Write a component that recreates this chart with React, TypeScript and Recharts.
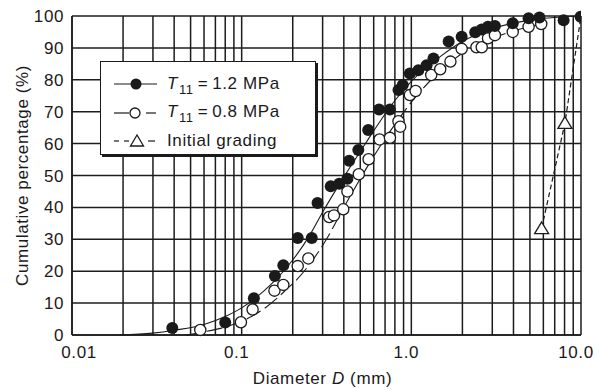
import React from 'react';
import { ComposedChart, Line, Scatter, XAxis, YAxis, CartesianGrid } from 'recharts';

const FONT = '"Liberation Sans", Arial, Helvetica, sans-serif';
const INK = '#1a1a1a';
const TEXT = { fontSize: 17, fontFamily: FONT, fill: INK, letterSpacing: 0.6 };

// log grid positions (mm) and the decade labels
const gridTicks = [
  0.01, 0.02, 0.03, 0.04, 0.05, 0.06, 0.07, 0.08, 0.09,
  0.1, 0.2, 0.3, 0.4, 0.5, 0.6, 0.7, 0.8, 0.9,
  1, 2, 3, 4, 5, 6, 7, 8, 9, 10,
];
const decadeTicks = [0.01, 0.1, 1, 10];
const decadeLabels = ['0.01', '0.1', '1.0', '10.0'];
const yTicks = [0, 10, 20, 30, 40, 50, 60, 70, 80, 90, 100];

// T11 = 1.2 MPa, measured points
const hiDiam = [
  0.039, 0.08, 0.118, 0.157, 0.176, 0.214, 0.259, 0.28, 0.335, 0.376, 0.42, 0.43,
  0.487, 0.557, 0.645, 0.748, 0.84, 0.89, 0.98, 1.1, 1.23, 1.35, 1.66, 1.98,
  2.38, 2.6, 2.83, 3.11, 3.96, 4.91, 5.69, 7.9, 9.94,
];
const hiPct = [
  2.2, 3.9, 11.5, 18.5, 21.9, 30.4, 30.4, 41.4, 46.6, 47.4, 49.0, 54.6,
  58.0, 64.3, 70.7, 70.7, 76.8, 78.4, 82.0, 83.0, 84.6, 86.7, 92.0, 93.5,
  94.9, 95.8, 96.6, 96.9, 97.7, 99.3, 99.5, 98.7, 99.8,
];

// T11 = 0.8 MPa, measured points
const loDiam = [
  0.057, 0.099, 0.116, 0.156, 0.176, 0.214, 0.247, 0.328, 0.35, 0.397, 0.42,
  0.49, 0.56, 0.65, 0.748, 0.84, 0.86, 0.98, 1.06, 1.31, 1.48, 1.7, 1.98,
  2.42, 2.6, 2.83, 3.11, 3.96, 4.91, 5.83,
];
const loPct = [
  1.6, 4.0, 8.0, 13.9, 15.7, 21.6, 24.0, 37.0, 37.5, 39.4, 45.0,
  50.4, 55.1, 61.3, 61.8, 67.0, 65.3, 75.2, 76.5, 81.5, 83.3, 85.7, 89.7,
  90.2, 90.2, 93.0, 94.0, 95.0, 96.6, 97.5,
];

// fitted gradation curves
const hiFitDiam = [0.019, 0.03, 0.04, 0.06, 0.08, 0.1, 0.12, 0.15, 0.2, 0.25, 0.3, 0.4, 0.5, 0.6, 0.8, 1, 1.5, 2, 3, 5, 10];
const hiFitPct = [0, 0.6, 1.5, 3.3, 5.8, 8.5, 11.5, 16, 23.5, 31, 38.5, 49.5, 57.5, 64, 73.5, 79.5, 87.5, 92, 96, 98.7, 100];
const loFitDiam = [0.047, 0.06, 0.08, 0.1, 0.135, 0.19, 0.21, 0.25, 0.316, 0.4, 0.5, 0.6, 0.8, 1, 1.5, 2, 3, 4, 6];
const loFitPct = [0, 1, 2.5, 4.3, 8.2, 15, 17.2, 22, 30, 40, 49, 56, 66, 73, 83, 88.3, 93, 95.3, 97.5];

// initial grading
const initDiam = [5.86, 8.04, 10];
const initPct = [33.4, 66.4, 100];

const toPoints = (xs: number[], ys: number[]) => xs.map((d, i) => ({ d, p: ys[i] }));

const hiPoints = toPoints(hiDiam, hiPct);
const loPoints = toPoints(loDiam, loPct);
const hiFit = toPoints(hiFitDiam, hiFitPct);
const loFit = toPoints(loFitDiam, loFitPct);
const initPoints = toPoints(initDiam, initPct);

const FilledDot = (props: any) => <circle cx={props.cx} cy={props.cy} r={6} fill={INK} />;
const OpenDot = (props: any) => (
  <circle cx={props.cx} cy={props.cy} r={5.6} fill="#fff" stroke={INK} strokeWidth={1.3} />
);
const OpenTriangle = (props: any) => {
  const { cx, cy } = props;
  return (
    <polygon
      points={`${cx},${cy - 6.5} ${cx - 7},${cy + 5.2} ${cx + 7},${cy + 5.2}`}
      fill="#fff"
      stroke={INK}
      strokeWidth={1.3}
    />
  );
};

// the printed labels sit a little off their grid lines
const XTick = (props: any) => {
  const { x, y, payload } = props;
  const i = decadeTicks.indexOf(payload.value);
  if (i < 0) return null;
  const shift = i === 0 ? 7 : -5;
  return (
    <text x={x + shift} y={y} dy="0.71em" textAnchor="middle" {...TEXT}>
      {decadeLabels[i]}
    </text>
  );
};

const YTitle = (props: any) => {
  const vb = props.viewBox;
  const x = vb.x + 22;
  const y = vb.y + vb.height / 2;
  return (
    <text x={x} y={y} transform={`rotate(-90 ${x} ${y})`} textAnchor="middle" dominantBaseline="central" {...TEXT}>
      Cumulative percentage (%)
    </text>
  );
};

const XTitle = (props: any) => {
  const vb = props.viewBox;
  return (
    <text x={vb.x + vb.width / 2 - 4} y={384} textAnchor="middle" {...TEXT}>
      Diameter <tspan fontStyle="italic">D</tspan> (mm)
    </text>
  );
};

const LegendRow = ({ icon, children }: { icon: React.ReactNode; children: React.ReactNode }) => (
  <div style={{ display: 'flex', alignItems: 'center', height: 28.5 }}>
    <svg width={54} height={16}>
      {icon}
    </svg>
    <span style={{ fontSize: 17, letterSpacing: 0.6, color: INK, whiteSpace: 'nowrap', lineHeight: '20px' }}>
      {children}
    </span>
  </div>
);

const Sub = ({ children }: { children: React.ReactNode }) => (
  <span style={{ fontSize: 13, position: 'relative', top: 5, marginLeft: 1 }}>{children}</span>
);

const Legend = () => (
  <div
    style={{
      position: 'absolute',
      left: 100,
      top: 61,
      width: 216,
      height: 94,
      border: `1.4px solid ${INK}`,
      boxShadow: `2px 2px 0 ${INK}`,
      background: '#fff',
      fontFamily: FONT,
      boxSizing: 'border-box',
      paddingTop: 8,
      paddingLeft: 12,
    }}
  >
    <LegendRow
      icon={
        <g>
          <line x1={1} y1={8} x2={44} y2={8} stroke={INK} strokeWidth={1.2} />
          <circle cx={23} cy={8} r={5.5} fill={INK} />
        </g>
      }
    >
      <i>T</i>
      <Sub>11</Sub>
      {'\u2009=\u20091.2 MPa'}
    </LegendRow>
    <LegendRow
      icon={
        <g>
          <line x1={1} y1={8} x2={16} y2={8} stroke={INK} strokeWidth={1.2} />
          <circle cx={22} cy={8} r={5} fill="#fff" stroke={INK} strokeWidth={1.3} />
          <line x1={33} y1={8} x2={43} y2={8} stroke={INK} strokeWidth={1.2} />
        </g>
      }
    >
      <i>T</i>
      <Sub>11</Sub>
      {'\u2009=\u20090.8 MPa'}
    </LegendRow>
    <LegendRow
      icon={
        <g>
          <line x1={1} y1={8} x2={6} y2={8} stroke={INK} strokeWidth={1.2} />
          <line x1={11} y1={8} x2={16} y2={8} stroke={INK} strokeWidth={1.2} />
          <polygon points="24,2 17.5,13 30.5,13" fill="#fff" stroke={INK} strokeWidth={1.3} />
          <line x1={35} y1={8} x2={42} y2={8} stroke={INK} strokeWidth={1.2} />
        </g>
      }
    >
      Initial grading
    </LegendRow>
  </div>
);

export default function App() {
  return (
    <div style={{ position: 'absolute', left: 0, top: 0, width: 595, height: 390, background: '#fff' }}>
      <ComposedChart width={595} height={390} margin={{ top: 16, right: 14, bottom: 30, left: 0 }}>
        <CartesianGrid stroke="#1c1c1c" strokeWidth={1.5} />
        <XAxis
          dataKey="d"
          type="number"
          scale="log"
          domain={[0.01, 10]}
          ticks={gridTicks}
          interval={0}
          allowDataOverflow
          tick={<XTick />}
          tickLine={false}
          tickMargin={5}
          height={25}
          stroke={INK}
          strokeWidth={1.5}
          label={{ content: XTitle }}
        />
        <YAxis
          dataKey="p"
          type="number"
          domain={[0, 100]}
          ticks={yTicks}
          interval={0}
          width={72}
          tickLine={false}
          stroke={INK}
          strokeWidth={1.5}
          tick={TEXT}
          label={{ content: YTitle }}
        />
        <Line
          data={hiFit}
          dataKey="p"
          type="monotone"
          stroke={INK}
          strokeWidth={1.1}
          dot={false}
          activeDot={false}
          isAnimationActive={false}
        />
        <Line
          data={loFit}
          dataKey="p"
          type="monotone"
          stroke={INK}
          strokeWidth={1.1}
          strokeDasharray="16 5"
          dot={false}
          activeDot={false}
          isAnimationActive={false}
        />
        <Line
          data={initPoints}
          dataKey="p"
          type="linear"
          stroke={INK}
          strokeWidth={1.2}
          strokeDasharray="5 3"
          dot={false}
          activeDot={false}
          isAnimationActive={false}
        />
        <Scatter data={loPoints} dataKey="p" shape={OpenDot} isAnimationActive={false} />
        <Scatter data={hiPoints} dataKey="p" shape={FilledDot} isAnimationActive={false} />
        <Scatter data={initPoints.slice(0, 2)} dataKey="p" shape={OpenTriangle} isAnimationActive={false} />
      </ComposedChart>
      <Legend />
    </div>
  );
}
